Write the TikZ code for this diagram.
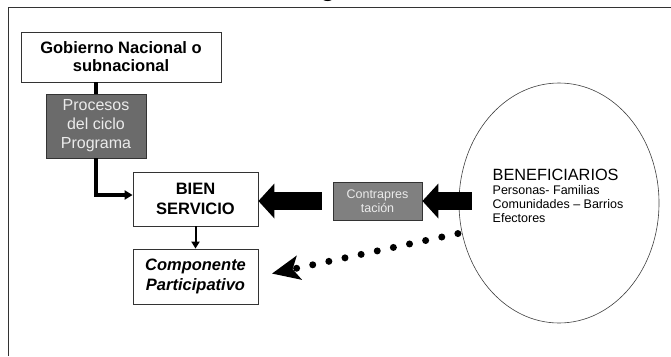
\documentclass[tikz,border=0pt]{standalone}
\usepackage{fontspec}
\setmainfont{Liberation Sans}
\usepackage{tikz}
\usetikzlibrary{arrows.meta}
\usetikzlibrary{shapes.geometric}
\usetikzlibrary{positioning}

\tikzset{
  box/.style={draw=black!80, fill=white, line width=0.8pt, align=center, inner sep=0pt},
  greybox/.style={draw=black!80, line width=0.8pt, align=center, inner sep=0pt, text=black!8},
  thickline/.style={line width=3.5pt},
  blockarrow/.style={line width=18pt, -{Triangle[length=16pt, width=35pt, line width=0pt]}},
  dotline/.style={line width=7pt, line cap=round, dash pattern=on 0pt off 16.5pt,
    -{Stealth[length=28pt, width=25pt, inset=7pt, line width=0pt]}}
}

\begin{document}
\begin{tikzpicture}[x=1pt, y=-1pt]
      \useasboundingbox (0, 0) rectangle (671, 356);

      \node[anchor=base, font=\bfseries\fontsize{24}{28}\selectfont] (title) at (328, -3) {g};
      \draw[black!80, line width=0.8pt] (8, 356) -- (8, 7.5) -- (671, 7.5);

      \node[box, minimum width=200pt, minimum height=50pt, font=\bfseries\fontsize{16.5}{18}\selectfont] (gob) at (121, 57) {Gobierno Nacional o\\subnacional};
      \node[greybox, fill=black!58, minimum width=100pt, minimum height=64pt, font=\fontsize{16}{19}\selectfont] (proc) at (96, 126) {Procesos\\del ciclo\\Programa};
      \node[box, minimum width=125pt, minimum height=54pt, font=\bfseries\fontsize{16.5}{20}\selectfont] (bien) at (195.5, 199) {BIEN\\SERVICIO};
      \node[box, minimum width=125pt, minimum height=55pt, font=\bfseries\itshape\fontsize{16.5}{20}\selectfont] (comp) at (195.5, 276.5) {Componente\\Participativo};
      \node[greybox, fill=black!50, minimum width=89pt, minimum height=38pt, font=\fontsize{12.5}{14}\selectfont] (contra) at (377.5, 201) {Contrapres\\tación};

      \node[draw=black!75, line width=0.6pt, shape=ellipse, minimum width=200pt, minimum height=240pt] (ell) at (559, 203) {};
      \node[align=left, inner sep=0pt, font=\fontsize{12.5}{14}\selectfont] (benef) at (558, 196) {{\fontsize{16.3}{17}\selectfont BENEFICIARIOS}\\Personas- Familias\\Comunidades -- Barrios\\Efectores};

      \draw[thickline] (proc.north) -- (proc.north |- gob.south);
      \draw[thickline, -{Triangle[length=8pt, width=9pt]}] (proc.south) |- ([yshift=4pt]bien.west);
      \draw[line width=2pt, -{Triangle[length=7pt, width=8pt]}] (bien.south) -- (comp.north);

      \draw[blockarrow, shorten <=11pt] (contra.west) -- (contra.west -| bien.east);
      \draw[blockarrow, shorten <=-13pt] (contra.east -| ell.west) -- (contra.east);
      \draw[dotline, shorten <=4pt, shorten >=14pt] (ell.197) -- (comp.east);
\end{tikzpicture}
\end{document}
